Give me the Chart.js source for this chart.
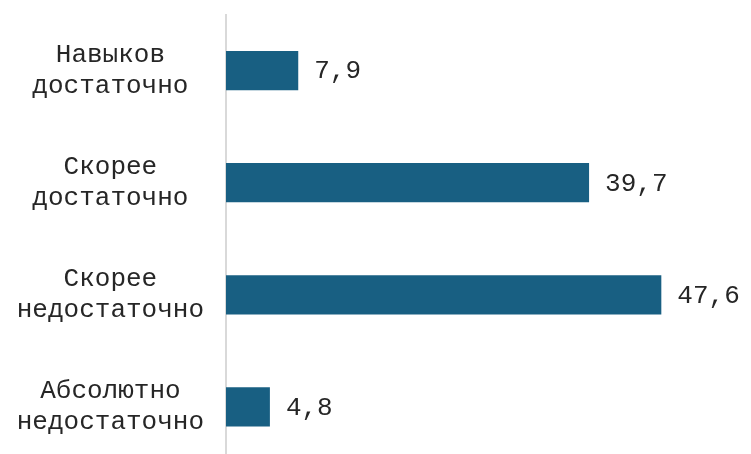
<!DOCTYPE html>
<html>
<head>
<meta charset="utf-8">
<script src="https://cdn.jsdelivr.net/npm/chart.js@4/dist/chart.umd.min.js"></script>
<style>
  html, body { margin: 0; padding: 0; background: #fff; overflow: hidden; }
  #wrap { width: 751px; height: 463px; position: relative; }
</style>
</head>
<body>
<div id="wrap"><canvas id="barChart"></canvas></div>
<script>
// Data
var categories = [
  ["Навыков", "достаточно"],
  ["Скорее", "достаточно"],
  ["Скорее", "недостаточно"],
  ["Абсолютно", "недостаточно"],
];
var values = [7.9, 39.7, 47.6, 4.8];

var barColor = "#185f82";
var textColor = "#262626";
var fontFamily = "'Liberation Mono', 'Courier New', monospace";

// Draw the value next to each bar (comma as decimal separator)
var valueLabels = {
  id: "valueLabels",
  afterDatasetsDraw: function (chart) {
    var ctx = chart.ctx;
    var meta = chart.getDatasetMeta(0);
    ctx.save();
    ctx.font = "26px " + fontFamily;
    ctx.fillStyle = textColor;
    ctx.textAlign = "left";
    ctx.textBaseline = "middle";
    meta.data.forEach(function (bar, i) {
      var text = values[i].toFixed(1).replace(".", ",");
      ctx.fillText(text, bar.x + 16, bar.y + 1);
    });
    ctx.restore();
  },
};

var ctx = document.getElementById("barChart").getContext("2d");

new Chart(ctx, {
  type: "bar",
  data: {
    labels: categories,
    datasets: [
      {
        data: values,
        backgroundColor: barColor,
        barPercentage: 0.35,
        categoryPercentage: 1,
      },
    ],
  },
  options: {
    indexAxis: "y",
    responsive: true,
    maintainAspectRatio: false,
    animation: false,
    layout: {
      padding: { top: 14.5, right: 22, bottom: 0, left: 0 },
    },
    plugins: {
      legend: { display: false },
      tooltip: { enabled: false },
    },
    scales: {
      x: {
        min: 0,
        max: 55,
        display: false,
        grid: { display: false },
      },
      y: {
        afterFit: function (scale) {
          scale.width = 226;
          scale.paddingTop = 0;
          scale.paddingBottom = 0;
        },
        grid: { display: false, drawTicks: false },
        border: { display: true, color: "#d9d9d9", width: 2 },
        ticks: {
          crossAlign: "center",
          padding: 22,
          color: textColor,
          font: { family: fontFamily, size: 26, lineHeight: 1.2 },
        },
      },
    },
  },
  plugins: [valueLabels],
});
</script>
</body>
</html>
